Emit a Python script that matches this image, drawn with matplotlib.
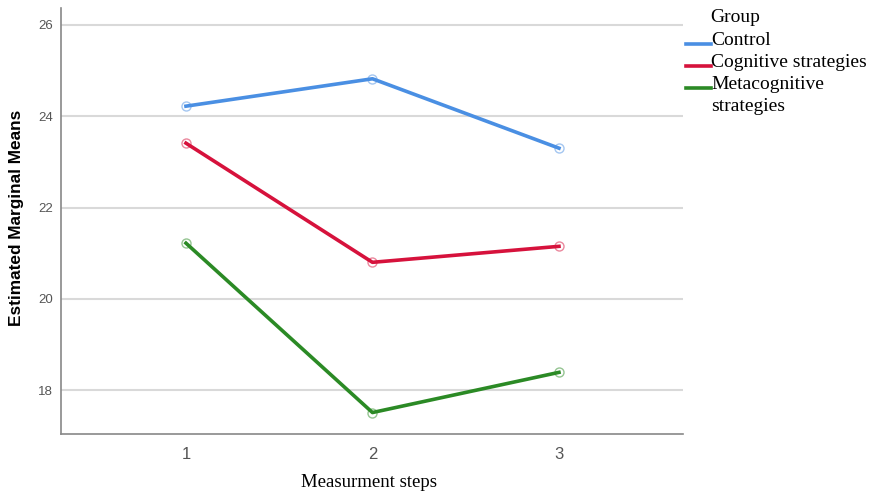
import matplotlib
matplotlib.use('Agg')
import matplotlib.pyplot as plt
from matplotlib.lines import Line2D

steps = [1, 2, 3]
groups = ['Control', 'Cognitive strategies', 'Metacognitive\nstrategies']
control = [24.22, 24.82, 23.30]
cognitive = [23.41, 20.80, 21.15]
metacognitive = [21.22, 17.51, 18.39]
colors = ['#4a8fe3', '#d6123c', '#2b8a25']

fig = plt.figure(figsize=(8.75, 4.94), dpi=100)
ax = fig.add_axes([61 / 875, 60 / 494, 622 / 875, 426 / 494])

for vals, c in zip([control, cognitive, metacognitive], colors):
    ax.plot(steps, vals, color=c, lw=2.6, zorder=3)
    ax.plot(steps, vals, 'o', ms=6.5, mfc='none', mec=c, mew=1.0,
            alpha=0.5, zorder=4)

ax.set_xlim(0.33, 3.665)
ax.set_ylim(17.04, 26.37)
ax.set_xticks(steps)
ax.set_yticks([18, 20, 22, 24, 26])
ax.yaxis.grid(True, color='#d9d9d9', lw=1.5)
ax.set_axisbelow(True)
ax.tick_params(length=0)
ax.tick_params(axis='y', labelsize=9.5, labelcolor='#555555', pad=6)
ax.tick_params(axis='x', labelsize=12, labelcolor='#555555', pad=9)
for lab in ax.get_xticklabels() + ax.get_yticklabels():
    lab.set_family('Liberation Sans')
for s in ['top', 'right']:
    ax.spines[s].set_visible(False)
for s in ['left', 'bottom']:
    ax.spines[s].set_color('#888888')
    ax.spines[s].set_linewidth(1.2)

fig.text(17 / 875, 1 - 218 / 494, 'Estimated Marginal Means', rotation=90,
         ha='center', va='center', fontsize=12.4, fontweight='bold',
         family='Liberation Sans')
fig.text(369 / 875, 1 - 482 / 494, 'Measurment steps', ha='center',
         va='center', fontsize=13.5, family='Liberation Serif')

# legend drawn by hand
fig.text(710 / 875, 1 - 17 / 494, 'Group', ha='left', va='center',
         fontsize=14, family='Liberation Serif')
text_y = [39, 61, 83]
for g, c, ty in zip(groups, colors, text_y):
    ly = 1 - (ty + 5) / 494
    fig.add_artist(Line2D([686 / 875, 711 / 875], [ly, ly], color=c, lw=2.6,
                          transform=fig.transFigure))
    fig.text(711 / 875, 1 - (ty - 7) / 494, g, ha='left', va='top',
             fontsize=14, family='Liberation Serif', linespacing=1.4)

fig.savefig('out.png', dpi=100)
